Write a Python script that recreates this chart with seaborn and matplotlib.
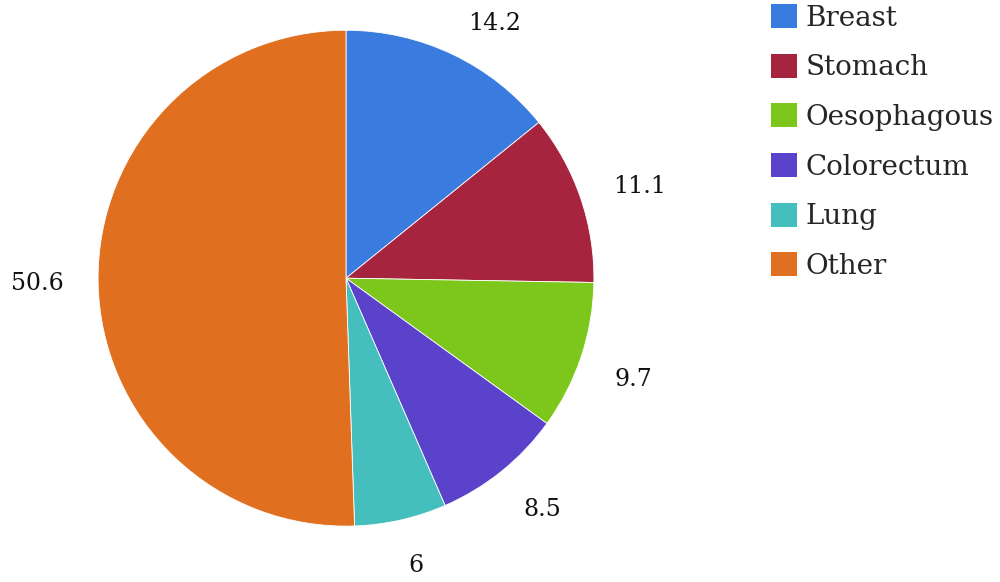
import matplotlib
matplotlib.use("Agg")
import matplotlib.pyplot as plt
import seaborn as sns
from matplotlib.patches import Patch

categories = ["Breast", "Stomach", "Oesophagous", "Colorectum", "Lung", "Other"]
values = [14.2, 11.1, 9.7, 8.5, 6, 50.6]
value_labels = ["14.2", "11.1", "9.7", "8.5", "6", "50.6"]
colors = ["#3A7BDF", "#A6243E", "#7DC71C", "#5A42CB", "#45BFBD", "#E07020"]

sns.set_theme(style="white")
plt.rcParams["font.family"] = ["DejaVu Serif"]
palette = sns.color_palette(colors)

fig = plt.figure(figsize=(10, 5.82), dpi=100)
ax = fig.add_axes([0.098, 0.522 - 0.426, 0.496, 0.852])
wedges, texts = ax.pie(values, labels=value_labels, colors=palette, startangle=90,
                       counterclock=False, labeldistance=1.14,
                       wedgeprops=dict(edgecolor="white", linewidth=0.6),
                       textprops=dict(fontsize=17, color="#111111"))
for t in texts:
    x, y = t.get_position()
    if y < -0.2:
        t.set_va("top")
ax.set_xlim(-1, 1)
ax.set_ylim(-1, 1)
ax.set_aspect("equal")

handles = [Patch(facecolor=c, edgecolor="none") for c in palette]
fig.legend(handles, categories, loc="upper left", bbox_to_anchor=(0.767, 1.0),
           frameon=False, fontsize=20, handlelength=0.94, handleheight=0.94,
           handletextpad=0.3, labelspacing=0.8, borderpad=0.15, borderaxespad=0)

fig.savefig("out.png", dpi=100)
